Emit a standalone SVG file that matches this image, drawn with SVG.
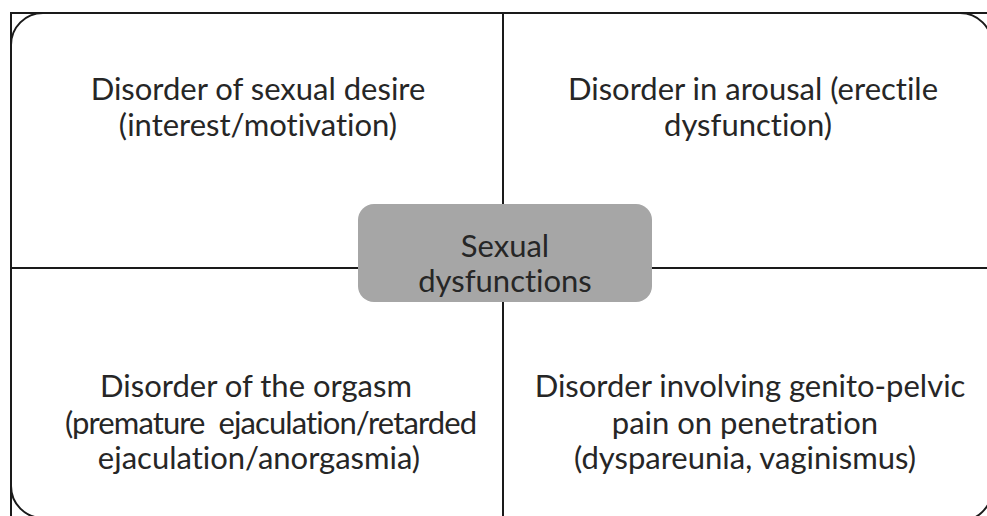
<svg xmlns="http://www.w3.org/2000/svg" width="987" height="516" viewBox="0 0 987 516">
<style>
.ln{fill:none;stroke:#1a1a1a;stroke-width:2}
.t{font-family:Lato,"Open Sans","Liberation Sans",sans-serif;font-size:31px;fill:#262626;text-anchor:middle;font-variant-ligatures:none}
</style>
<rect width="987" height="516" fill="#fff"/>
<g id="connectors">
<path class="ln" d="M10,13 H987"/>
<path class="ln" d="M11,13 V516"/>
<path class="ln" d="M503,13 V516" stroke="#333" stroke-width="2.5"/>
<path class="ln" d="M11,268 H987"/>
<path class="ln" d="M11,45 A32,32 0 0 1 43,13"/>
<path class="ln" d="M960,13 A32,32 0 0 1 992,45"/>
<path class="ln" d="M11,486 A32,32 0 0 0 43,518"/>
<path class="ln" d="M992,489 A32,32 0 0 1 960,521"/>
</g>
<g id="q-desire">
<text class="t" x="258" y="100">Disorder of sexual desire</text>
<text class="t" x="258" y="136">(interest/motivation)</text>
</g>
<g id="q-arousal">
<text class="t" x="753" y="100">Disorder in arousal (erectile</text>
<text class="t" x="748" y="136">dysfunction)</text>
</g>
<g id="center">
<rect x="358" y="204" width="294" height="98" rx="16" fill="#a6a6a6"/>
<text class="t" x="505" y="257" fill="#1a1a1a">Sexual</text>
<text class="t" x="505" y="292" fill="#1a1a1a">dysfunctions</text>
</g>
<g id="q-orgasm">
<text class="t" x="256" y="397">Disorder of the orgasm</text>
<text class="t" x="271" y="434" xml:space="preserve" textLength="412" lengthAdjust="spacing">(premature  ejaculation/retarded</text>
<text class="t" x="259" y="469">ejaculation/anorgasmia)</text>
</g>
<g id="q-pain">
<text class="t" x="750" y="397">Disorder involving genito-pelvic</text>
<text class="t" x="745" y="434">pain on penetration</text>
<text class="t" x="745" y="469">(dyspareunia, vaginismus)</text>
</g>
</svg>
